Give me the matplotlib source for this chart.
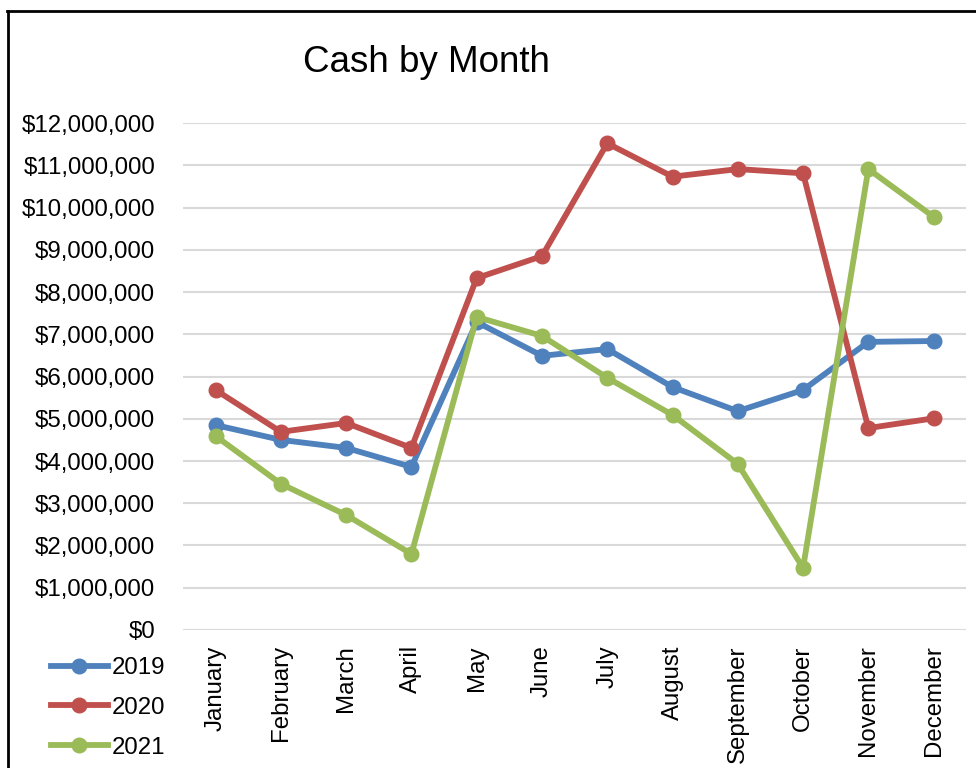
import matplotlib
matplotlib.use("Agg")
import matplotlib.pyplot as plt
from matplotlib.lines import Line2D
from matplotlib.ticker import FuncFormatter

plt.rcParams['font.family'] = ['Liberation Sans', 'DejaVu Sans']

months = ["January", "February", "March", "April", "May", "June", "July",
          "August", "September", "October", "November", "December"]
cash_2019 = [4.85, 4.50, 4.31, 3.86, 7.29, 6.49, 6.65, 5.75, 5.18, 5.68, 6.82, 6.84]
cash_2020 = [5.68, 4.69, 4.90, 4.31, 8.33, 8.85, 11.52, 10.73, 10.91, 10.81, 4.78, 5.01]
cash_2021 = [4.59, 3.46, 2.72, 1.80, 7.41, 6.96, 5.97, 5.09, 3.93, 1.47, 10.91, 9.78]
years = ["2019", "2020", "2021"]
colors = ["#4F81BD", "#C0504D", "#9BBB59"]

fig = plt.figure(figsize=(9.76, 7.68), dpi=100)
ax = fig.add_axes([0.1875, 0.1797, 0.8025, 0.6601])

x = list(range(len(months)))
for vals, lab, c in zip([cash_2019, cash_2020, cash_2021], years, colors):
    ax.plot(x, [v * 1e6 for v in vals], color=c, lw=4.2, marker="o",
            markersize=10.5, label=lab, solid_capstyle="round")

ax.set_xlim(-0.5, 11.5)
ax.set_ylim(0, 12e6)
ax.set_yticks([i * 1e6 for i in range(13)])
ax.yaxis.set_major_formatter(FuncFormatter(lambda v, p: "${:,.0f}".format(v)))
ax.set_xticks(x)
ax.set_xticklabels(months, rotation=90)
ax.tick_params(axis="both", length=0, labelsize=17.3)
ax.tick_params(axis="y", pad=20)
ax.tick_params(axis="x", pad=11)
ax.grid(axis="y", color="#D9D9D9", lw=1.5)
ax.set_axisbelow(True)
for s in ax.spines.values():
    s.set_visible(False)

fig.text(0.437, 0.919, "Cash by Month", fontsize=26.5, ha="center", va="center")

handles = [Line2D([0], [0], color=c, lw=4.2, marker="o", markersize=10.5)
           for c in colors]
fig.legend(handles, years, loc="upper left", bbox_to_anchor=(0.042, 0.157),
           frameon=False, fontsize=17.3, handlelength=2.4, handletextpad=0.15,
           labelspacing=0.74, borderaxespad=0)

# frame visible on left and top only
fig.add_artist(Line2D([0.0082, 0.0082], [0, 0.986], color="black", lw=2,
                      transform=fig.transFigure))
fig.add_artist(Line2D([0.0072, 1.0], [0.9857, 0.9857], color="black", lw=2,
                      transform=fig.transFigure))

fig.savefig("out.png", dpi=100)
